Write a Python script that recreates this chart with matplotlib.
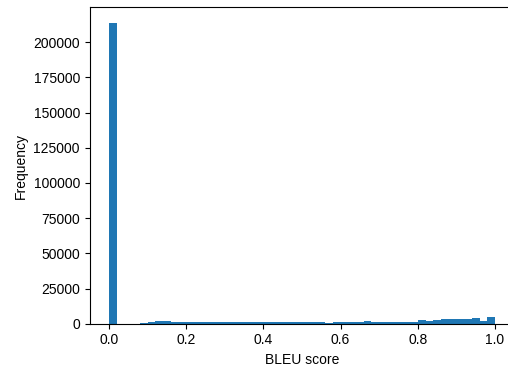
import numpy as np
import matplotlib
matplotlib.use("Agg")
import matplotlib.pyplot as plt

plt.rcParams["font.family"] = ["Liberation Sans", "DejaVu Sans"]
plt.rcParams["font.size"] = 10
plt.rcParams["savefig.bbox"] = "standard"

# histogram: 50 bins of width 0.02 over [0, 1]
bin_edges = np.linspace(0.0, 1.0, 51)
bin_counts = [
    214000, 0, 0, 0, 500, 900, 1700, 1700, 1000, 1000,
    1000, 1000, 1000, 1000, 1000, 1000, 1000, 1000, 1000, 1000,
    1000, 1000, 1000, 1000, 1000, 1000, 1000, 1000, 450, 1000,
    1000, 1000, 1000, 1700, 900, 900, 900, 1400, 1400, 1400,
    2350, 1650, 2300, 3100, 3100, 3500, 3550, 4000, 1650, 4700,
]


def main():
    fig = plt.figure(figsize=(5.08, 3.69), dpi=100)
    # axes runs past the right edge of the canvas, as in the cropped original
    ax = fig.add_axes([0.1766, 0.1228, 0.8358, 0.8569])
    centers = (bin_edges[:-1] + bin_edges[1:]) / 2
    ax.hist(centers, bins=bin_edges, weights=bin_counts, color="#1f77b4")
    ax.set_xlabel("BLEU score")
    ax.set_ylabel("Frequency")
    fig.savefig("out.png", dpi=100, bbox_inches=None)


if __name__ == "__main__":
    main()
